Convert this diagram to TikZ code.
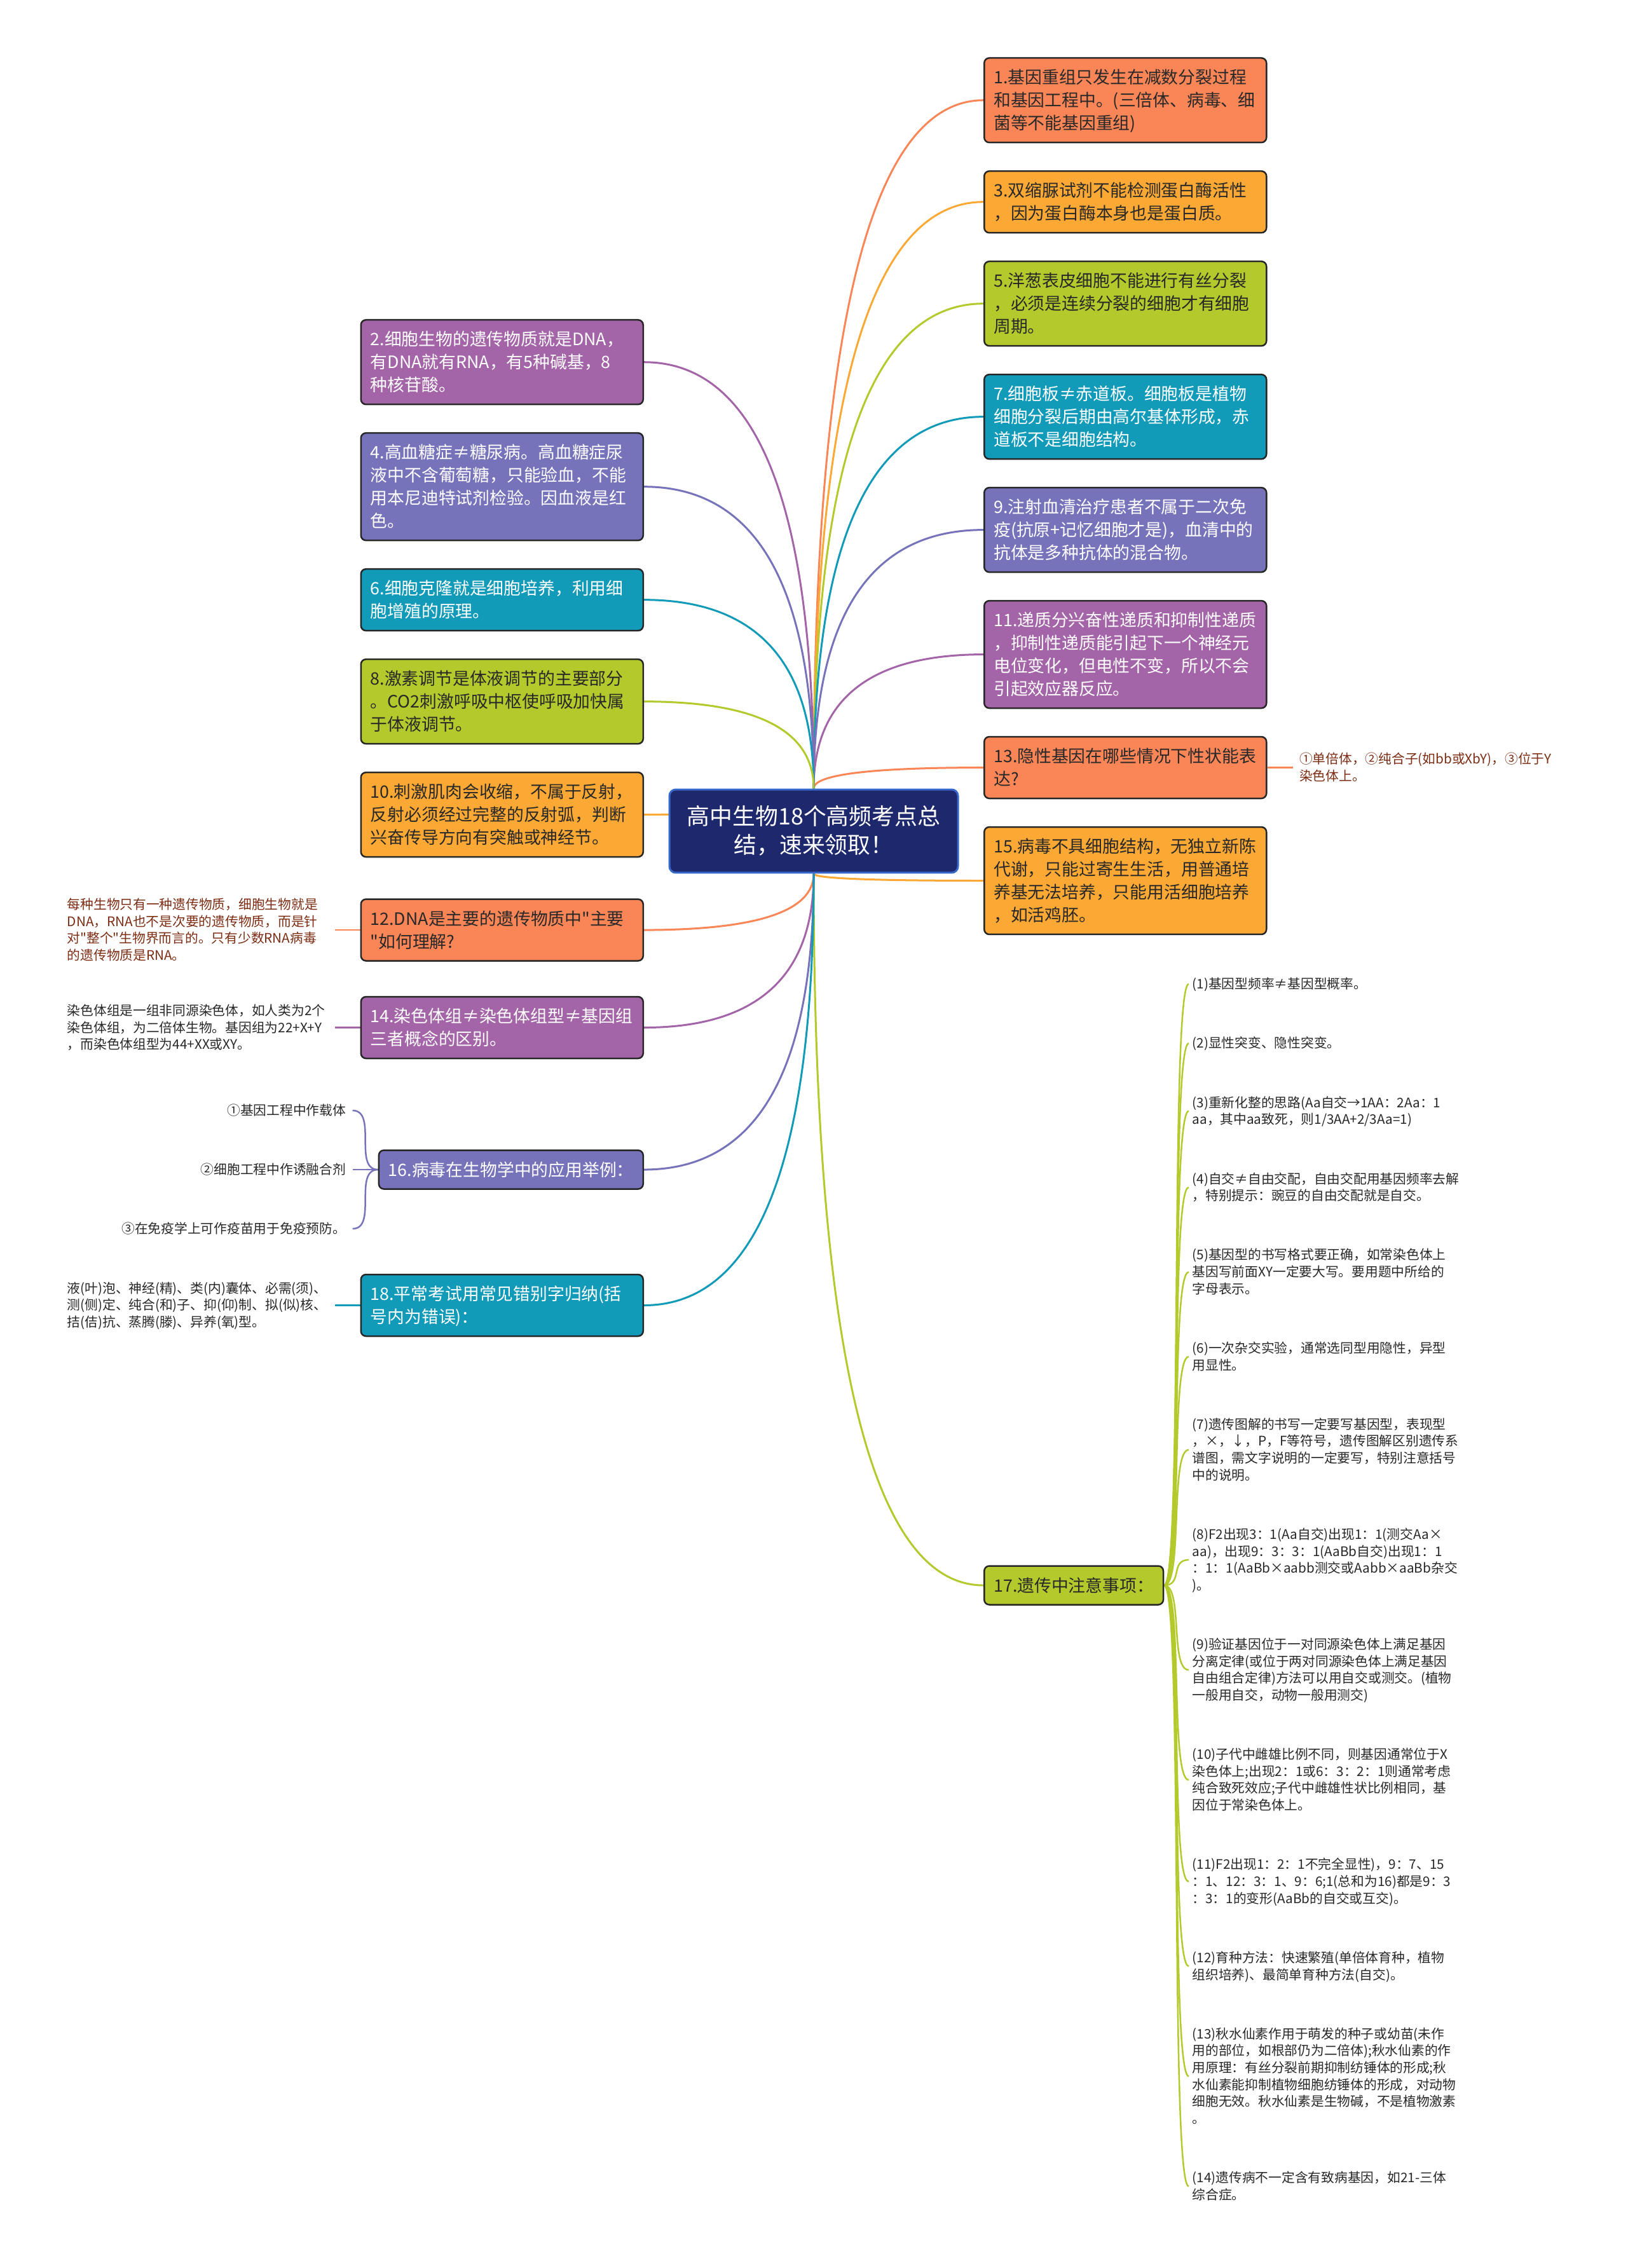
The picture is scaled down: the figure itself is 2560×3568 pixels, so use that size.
\documentclass[tikz,border=0pt]{standalone}
\usepackage{fontspec}
\setmainfont{Noto Sans CJK SC}[Ligatures=TeXOff]
\usetikzlibrary{positioning,calc}

\definecolor{mmSalmon}{RGB}{250,134,88}
\definecolor{mmOrange}{RGB}{251,168,52}
\definecolor{mmGreen}{RGB}{180,201,44}
\definecolor{mmTeal}{RGB}{18,154,185}
\definecolor{mmPeri}{RGB}{118,115,187}
\definecolor{mmPurple}{RGB}{163,100,168}
\definecolor{mmNavy}{RGB}{30,40,108}
\definecolor{mmRim}{RGB}{55,105,205}
\definecolor{mmInk}{RGB}{40,40,40}
\definecolor{mmRust}{RGB}{125,45,20}

\newcommand{\lnstrut}{\rule[-0.22\baselineskip]{0pt}{\baselineskip}}

\pgfdeclarelayer{background}
\pgfsetlayers{background,main}

\begin{document}
\begin{tikzpicture}[
    x=0.1mm, y=-0.1mm,
    node distance=4.25mm,
    box/.style={draw=black!85, line width=0.25mm, rounded corners=0.8mm,
        align=left, inner xsep=1.5mm, inner ysep=1.25mm, text=mmInk,
        font=\fontsize{7.63pt}{10.24pt}\selectfont,
        execute at begin node=\lnstrut, execute at end node=\lnstrut},
    wbox/.style={box, text width=41.4mm},
    pale/.style={text=white},
    root/.style={fill=mmNavy, draw=mmRim, line width=0.3mm, rounded corners=1mm,
        text=white, align=center, text width=42mm, inner xsep=1.7mm, inner ysep=2.05mm,
        font=\fontsize{10.2pt}{12.8pt}\selectfont,
        execute at begin node=\lnstrut, execute at end node=\lnstrut},
    note/.style={align=left, inner sep=1mm, text=mmInk, text width=41mm,
        font=\fontsize{5.9pt}{7.57pt}\selectfont,
        execute at begin node=\lnstrut, execute at end node=\lnstrut},
    item/.style={note, text width=42mm, inner sep=0.5mm, node distance=5.53mm},
    leaf/.style={align=right, inner sep=1mm, text=mmInk,
        font=\fontsize{5.9pt}{7.57pt}\selectfont,
        execute at begin node=\lnstrut, execute at end node=\lnstrut},
    br/.style={line width=0.3mm, to path={.. controls ($(\tikztostart)!0.667!(\tikztostart |- \tikztotarget)$)
        and ($(\tikztotarget)!0.667!(\tikztostart |- \tikztotarget)$) .. (\tikztotarget)}},
    tw/.style={line width=0.25mm},
    twig/.style={tw, mmGreen, to path={.. controls +(3mm,0mm) and +(-3mm,0mm) .. (\tikztotarget)}}
]
    \useasboundingbox (0,0) rectangle (2560,3568);

    % Root
    \node[root] (root) at (1280,1307.5) {高中生物18个高频考点总\\结，速来领取！};

    % Right branches
    \node[wbox, fill=mmSalmon, anchor=north west] (b1) at (1547,90) {1.基因重组只发生在减数分裂过程\\和基因工程中。(三倍体、病毒、细\\菌等不能基因重组)};
    \node[wbox, fill=mmOrange, below=of b1] (b3) {3.双缩脲试剂不能检测蛋白酶活性\\，因为蛋白酶本身也是蛋白质。};
    \node[wbox, fill=mmGreen, below=of b3] (b5) {5.洋葱表皮细胞不能进行有丝分裂\\，必须是连续分裂的细胞才有细胞\\周期。};
    \node[wbox, fill=mmTeal, pale, below=of b5] (b7) {7.细胞板≠赤道板。细胞板是植物\\细胞分裂后期由高尔基体形成，赤\\道板不是细胞结构。};
    \node[wbox, fill=mmPeri, pale, below=of b7] (b9) {9.注射血清治疗患者不属于二次免\\疫(抗原+记忆细胞才是)，血清中的\\抗体是多种抗体的混合物。};
    \node[wbox, fill=mmPurple, pale, below=of b9] (b11) {11.递质分兴奋性递质和抑制性递质\\，抑制性递质能引起下一个神经元\\电位变化，但电性不变，所以不会\\引起效应器反应。};
    \node[wbox, fill=mmSalmon, below=of b11] (b13) {13.隐性基因在哪些情况下性状能表\\达?};
    \node[wbox, fill=mmOrange, below=of b13] (b15) {15.病毒不具细胞结构，无独立新陈\\代谢，只能过寄生生活，用普通培\\养基无法培养，只能用活细胞培养\\，如活鸡胚。};
    \node[box, fill=mmGreen, anchor=west] (b17) at (1547,2494) {17.遗传中注意事项：};

    % Left branches
    \node[wbox, fill=mmPurple, pale, anchor=north east] (b2) at (1013,502) {2.细胞生物的遗传物质就是DNA，\\有DNA就有RNA，有5种碱基，8\\种核苷酸。};
    \node[wbox, fill=mmPeri, pale, below=of b2] (b4) {4.高血糖症≠糖尿病。高血糖症尿\\液中不含葡萄糖，只能验血，不能\\用本尼迪特试剂检验。因血液是红\\色。};
    \node[wbox, fill=mmTeal, pale, below=of b4] (b6) {6.细胞克隆就是细胞培养，利用细\\胞增殖的原理。};
    \node[wbox, fill=mmGreen, below=of b6] (b8) {8.激素调节是体液调节的主要部分\\。CO2刺激呼吸中枢使呼吸加快属\\于体液调节。};
    \node[wbox, fill=mmOrange, below=of b8] (b10) {10.刺激肌肉会收缩，不属于反射，\\反射必须经过完整的反射弧，判断\\兴奋传导方向有突触或神经节。};
    \node[wbox, fill=mmSalmon, below=6.4mm of b10] (b12) {12.DNA是主要的遗传物质中"主要\\"如何理解?};
    \node[wbox, fill=mmPurple, pale, below=5.4mm of b12] (b14) {14.染色体组≠染色体组型≠基因组\\三者概念的区别。};
    \node[box, fill=mmPeri, pale, below=14.2mm of b14.south east, anchor=north east] (b16) {16.病毒在生物学中的应用举例：};
    \node[wbox, fill=mmTeal, pale, below=13.2mm of b16.south east, anchor=north east] (b18) {18.平常考试用常见错别字归纳(括\\号内为错误)：};

    % Details
    \node[note, text=mmRust, right=4mm of b13] (n13) {①单倍体，②纯合子(如bb或XbY)，③位于Y\\染色体上。};
    \node[note, text=mmRust, left=4mm of b12] (n12) {每种生物只有一种遗传物质，细胞生物就是\\DNA，RNA也不是次要的遗传物质，而是针\\对"整个"生物界而言的。只有少数RNA病毒\\的遗传物质是RNA。};
    \node[note, left=4mm of b14] (n14) {染色体组是一组非同源染色体，如人类为2个\\染色体组，为二倍体生物。基因组为22+X+Y\\，而染色体组型为44+XX或XY。};
    \node[note, left=4mm of b18] (n18) {液(叶)泡、神经(精)、类(内)囊体、必需(须)、\\测(侧)定、纯合(和)子、抑(仰)制、拟(似)核、\\拮(佶)抗、蒸腾(滕)、异养(氧)型。};
    \node[leaf, left=4mm of b16] (v2) {②细胞工程中作诱融合剂};
    \node[leaf, above=4.5mm of v2.north east, anchor=south east] (v1) {①基因工程中作载体};
    \node[leaf, below=4.5mm of v2.south east, anchor=north east] (v3) {③在免疫学上可作疫苗用于免疫预防。};

    % Notes on heredity
    \node[item, anchor=west] (k1) at (1870,1548) {(1)基因型频率≠基因型概率。};
    \node[item, below=of k1.south west, anchor=north west] (k2) {(2)显性突变、隐性突变。};
    \node[item, below=of k2.south west, anchor=north west] (k3) {(3)重新化整的思路(Aa自交→1AA：2Aa：1\\aa，其中aa致死，则1/3AA+2/3Aa=1)};
    \node[item, below=of k3.south west, anchor=north west] (k4) {(4)自交≠自由交配，自由交配用基因频率去解\\，特别提示：豌豆的自由交配就是自交。};
    \node[item, below=of k4.south west, anchor=north west] (k5) {(5)基因型的书写格式要正确，如常染色体上\\基因写前面XY一定要大写。要用题中所给的\\字母表示。};
    \node[item, below=of k5.south west, anchor=north west] (k6) {(6)一次杂交实验，通常选同型用隐性，异型\\用显性。};
    \node[item, below=of k6.south west, anchor=north west] (k7) {(7)遗传图解的书写一定要写基因型，表现型\\，×，↓，P，F等符号，遗传图解区别遗传系\\谱图，需文字说明的一定要写，特别注意括号\\中的说明。};
    \node[item, below=of k7.south west, anchor=north west] (k8) {(8)F2出现3：1(Aa自交)出现1：1(测交Aa×\\aa)，出现9：3：3：1(AaBb自交)出现1：1\\：1：1(AaBb×aabb测交或Aabb×aaBb杂交\\)。};
    \node[item, below=of k8.south west, anchor=north west] (k9) {(9)验证基因位于一对同源染色体上满足基因\\分离定律(或位于两对同源染色体上满足基因\\自由组合定律)方法可以用自交或测交。(植物\\一般用自交，动物一般用测交)};
    \node[item, below=of k9.south west, anchor=north west] (k10) {(10)子代中雌雄比例不同，则基因通常位于X\\染色体上;出现2：1或6：3：2：1则通常考虑\\纯合致死效应;子代中雌雄性状比例相同，基\\因位于常染色体上。};
    \node[item, below=of k10.south west, anchor=north west] (k11) {(11)F2出现1：2：1不完全显性)，9：7、15\\：1、12：3：1、9：6;1(总和为16)都是9：3\\：3：1的变形(AaBb的自交或互交)。};
    \node[item, below=of k11.south west, anchor=north west] (k12) {(12)育种方法：快速繁殖(单倍体育种，植物\\组织培养)、最简单育种方法(自交)。};
    \node[item, below=of k12.south west, anchor=north west] (k13) {(13)秋水仙素作用于萌发的种子或幼苗(未作\\用的部位，如根部仍为二倍体);秋水仙素的作\\用原理：有丝分裂前期抑制纺锤体的形成;秋\\水仙素能抑制植物细胞纺锤体的形成，对动物\\细胞无效。秋水仙素是生物碱，不是植物激素\\。};
    \node[item, below=of k13.south west, anchor=north west] (k14) {(14)遗传病不一定含有致病基因，如21-三体\\综合症。};

    \begin{pgfonlayer}{background}
        \fill[white] (0,0) rectangle (2560,3568);
        % Root to right branches
        \draw[br, mmSalmon] (root.north) to (b1.west);
        \draw[br, mmOrange] (root.north) to (b3.west);
        \draw[br, mmGreen] (root.north) to (b5.west);
        \draw[br, mmTeal] (root.north) to (b7.west);
        \draw[br, mmPeri] (root.north) to (b9.west);
        \draw[br, mmPurple] (root.north) to (b11.west);
        \draw[br, mmSalmon] (root.north) to (b13.west);
        \draw[br, mmOrange] (root.south) to (b15.west);
        \draw[br, mmGreen] (root.south) to (b17.west);
        % Root to left branches
        \draw[br, mmPurple] (root.north) to (b2.east);
        \draw[br, mmPeri] (root.north) to (b4.east);
        \draw[br, mmTeal] (root.north) to (b6.east);
        \draw[br, mmGreen] (root.north) to (b8.east);
        \draw[br, mmOrange] (root.north) to (b10.east);
        \draw[br, mmSalmon] (root.south) to (b12.east);
        \draw[br, mmPurple] (root.south) to (b14.east);
        \draw[br, mmPeri] (root.south) to (b16.east);
        \draw[br, mmTeal] (root.south) to (b18.east);
        % Branch details
        \draw[tw, mmSalmon] (b13) -- (n13);
        \draw[tw, mmSalmon] (b12) -- (n12);
        \draw[tw, mmPurple] (b14) -- (n14);
        \draw[tw, mmTeal] (b18) -- (n18);
        \draw[tw, mmPeri] (b16.west) to[out=180, in=0] (v1.east);
        \draw[tw, mmPeri] (b16.west) -- (v2.east);
        \draw[tw, mmPeri] (b16.west) to[out=180, in=0] (v3.east);
        \foreach \i in {1,...,14}
            \draw[twig] (b17.east) to (k\i.west);
    \end{pgfonlayer}
\end{tikzpicture}
\end{document}
